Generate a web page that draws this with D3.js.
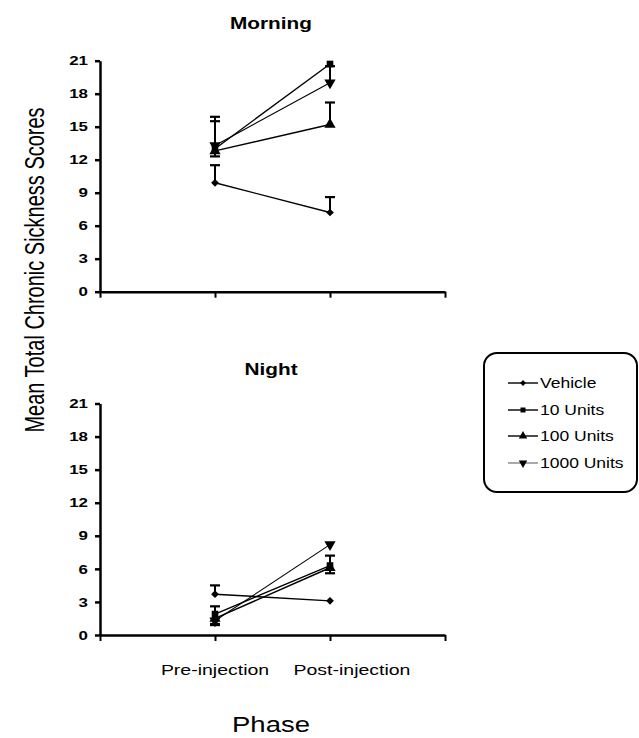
<!DOCTYPE html>
<html><head><meta charset="utf-8">
<script src="https://cdn.jsdelivr.net/npm/d3@7"></script>
<style>body{margin:0;background:#fff}svg{display:block}text{font-family:"Liberation Sans",Arial,sans-serif;fill:#000}</style>
</head><body>
<script>
// ---- data ----
const phases = ["Pre-injection", "Post-injection"];
const seriesNames = ["Vehicle", "10 Units", "100 Units", "1000 Units"];
const markerTypes = ["diamond", "square", "triangle", "triangleDown"];
const yTicks = [0, 3, 6, 9, 12, 15, 18, 21];
const panelTitles = ["Morning", "Night"];

// Morning: means and error-bar ends (null = not drawn)
const morningMeans = [[9.9, 7.2], [13.0, 20.7], [12.8, 15.2], [13.3, 19.0]];
const morningErrHi = [[11.5, 8.6], [15.9, null], [null, 17.2], [15.5, 20.5]];
const morningErrLo = [[null, null], [null, null], [12.3, null], [null, null]];
// Night
const nightMeans = [[3.7, 3.1], [1.9, 6.3], [1.5, 6.1], [1.3, 8.2]];
const nightErrHi = [[4.5, null], [2.6, 7.2], [null, null], [null, null]];
const nightErrLo = [[null, null], [null, null], [1.0, 5.6], [0.9, null]];

const W = 639, H = 738;
const SX = 1.3; // horizontal stretch of the lettering in the original
const svg = d3.select("body").append("svg").attr("width", W).attr("height", H);

function stext(parent, x, y, txt, size, opts = {}) {
  const g = parent.append("g").attr("transform", `translate(${x},${y}) scale(${opts.sx || SX},1)`);
  return g.append("text").attr("text-anchor", opts.anchor || "middle")
    .attr("font-size", size).attr("font-weight", opts.bold ? "bold" : "normal").text(txt);
}

const x = d3.scaleLinear().domain([0, 3]).range([100, 445]);

const panels = [
  {title: panelTitles[0], means: morningMeans, hi: morningErrHi, lo: morningErrLo, y0: 291.7, y1: 60.7, titleY: 29},
  {title: panelTitles[1], means: nightMeans, hi: nightErrHi, lo: nightErrLo, y0: 635, y1: 403.5, titleY: 375}
];

const symbolOf = {
  diamond: d3.symbol().type(d3.symbolSquare).size(30),
  square: d3.symbol().type(d3.symbolSquare).size(44),
  triangle: d3.symbol().type(d3.symbolTriangle).size(55),
  triangleDown: d3.symbol().type(d3.symbolTriangle).size(55)
};

function drawMarker(g, type, cx, cy, k = 1) {
  const rot = type === "triangleDown" ? " rotate(180)" : type === "diamond" ? " rotate(45)" : "";
  g.append("path").attr("d", symbolOf[type]())
    .attr("transform", `translate(${cx},${cy}) scale(${k})` + rot)
    .attr("fill", "#000");
}

panels.forEach(p => {
  const y = d3.scaleLinear().domain([0, 21]).range([p.y0, p.y1]);
  const g = svg.append("g");

  stext(g, 271, p.titleY, p.title, 16, {bold: true});

  const ya = g.append("g").attr("transform", "translate(100,0)")
    .call(d3.axisLeft(y).tickValues(yTicks).tickSize(5).tickSizeOuter(0));
  ya.select(".domain").attr("stroke-width", 2.5);
  ya.selectAll(".tick line").attr("stroke-width", 2.5);
  ya.selectAll(".tick text").attr("font-size", 13).attr("font-weight", "bold")
    .attr("x", -12 / SX).attr("transform", `scale(${SX},1)`)
    .style("font-family", '"Liberation Sans",Arial,sans-serif');

  const xa = g.append("g").attr("transform", `translate(0,${p.y0})`)
    .call(d3.axisBottom(x).tickValues([0, 1, 2, 3]).tickSize(6).tickSizeOuter(0).tickFormat(""));
  xa.select(".domain").attr("stroke-width", 2.5);
  xa.selectAll(".tick line").attr("stroke-width", 2);

  // error bars
  p.means.forEach((m, si) => {
    m.forEach((v, pi) => {
      [p.hi[si][pi], p.lo[si][pi]].forEach(e => {
        if (e === null) return;
        const cx = x(pi + 1);
        g.append("line").attr("x1", cx).attr("x2", cx).attr("y1", y(v)).attr("y2", y(e))
          .attr("stroke", "#000").attr("stroke-width", 2);
        g.append("line").attr("x1", cx - 5).attr("x2", cx + 5).attr("y1", y(e)).attr("y2", y(e))
          .attr("stroke", "#000").attr("stroke-width", 2.2);
      });
    });
  });

  // lines + markers
  const line = d3.line().x((d, i) => x(i + 1)).y(d => y(d));
  p.means.forEach((m, si) => {
    g.append("path").attr("d", line(m)).attr("fill", "none").attr("stroke", "#000")
      .attr("stroke-width", si === 3 ? 1.1 : 1.4);
    m.forEach((v, pi) => drawMarker(g, markerTypes[si], x(pi + 1), y(v)));
  });
});

// x category labels
const labelOffsets = [0, 22];
phases.forEach((ph, i) => {
  stext(svg, x(i + 1) + labelOffsets[i], 675, ph, 15);
});

stext(svg, 271, 732, "Phase", 22, {sx: 1.25});

svg.append("g").attr("transform", "translate(44,270) rotate(-90) scale(1,1.35)")
  .append("text").attr("text-anchor", "middle").attr("font-size", 20)
  .text("Mean Total Chronic Sickness Scores");

// legend
const lg = svg.append("g");
lg.append("rect").attr("x", 484).attr("y", 353).attr("width", 153).attr("height", 139)
  .attr("rx", 13).attr("fill", "#fff").attr("stroke", "#000").attr("stroke-width", 2);
const legendY = [383, 410, 436, 463];
seriesNames.forEach((n, i) => {
  lg.append("line").attr("x1", 508).attr("x2", 538).attr("y1", legendY[i]).attr("y2", legendY[i])
    .attr("stroke", i === 3 ? "#555" : "#000").attr("stroke-width", i === 3 ? 1 : 1.4);
  drawMarker(lg, markerTypes[i], 523, legendY[i], 0.75);
  stext(lg, 540, legendY[i] + 5, n, 14, {anchor: "start", sx: 1.25});
});
</script>
</body></html>
